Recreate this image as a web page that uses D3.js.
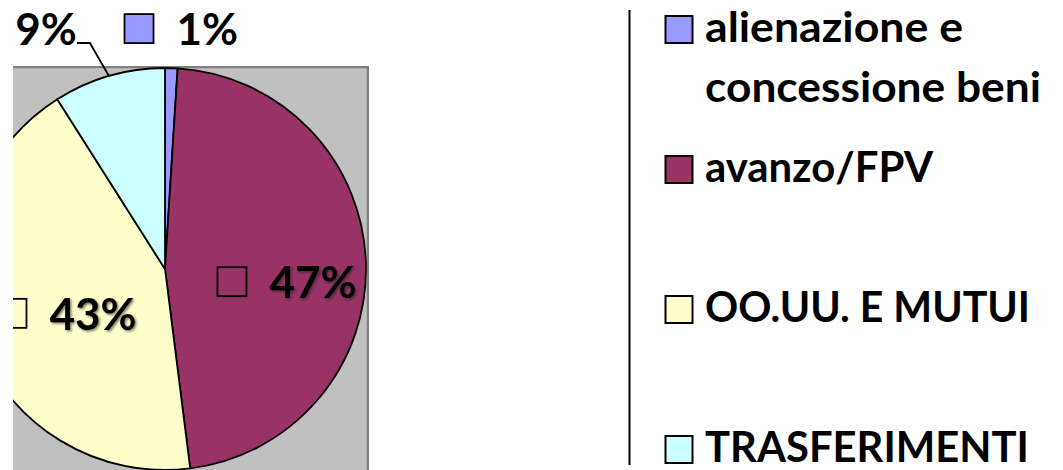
<!DOCTYPE html>
<html>
<head>
<meta charset="utf-8">
<script src="https://cdn.jsdelivr.net/npm/d3@7"></script>
<style>
  html, body { margin: 0; padding: 0; background: #ffffff; }
  svg { display: block; }
  text { font-family: Lato, "Open Sans", sans-serif; font-weight: 700; fill: #000; }
</style>
</head>
<body>
<svg id="chart" width="1063" height="470"></svg>
<script>
// Funding sources: share of the total, in percent
const categories = ["alienazione e concessione beni", "avanzo/FPV", "OO.UU. E MUTUI", "TRASFERIMENTI"];
const shares = [1, 47, 43, 9];
const percentLabels = ["1%", "47%", "43%", "9%"];
// Legend text, split on the lines it wraps to
const legendLines = [["alienazione e", "concessione beni"], ["avanzo/FPV"], ["OO.UU. E MUTUI"], ["TRASFERIMENTI"]];

const palette = ["#9999FF", "#993366", "#FFFFCC", "#CCFFFF"];
// set width of each legend line, in px
const legendLineWidths = [[258, 336], [228], [325], [324]];

const W = 1063, H = 470;
const svg = d3.select("#chart");

// plot area
const plot = { x0: 13, y0: 67, x1: 369, y1: H };
const cx = 165, cy = 269, R = 201;

svg.append("defs").append("clipPath").attr("id", "plotClip")
  .append("rect").attr("x", plot.x0).attr("y", plot.y0 - 1)
  .attr("width", plot.x1 - plot.x0).attr("height", plot.y1 - plot.y0 + 1);

const shadow = svg.select("defs").append("filter").attr("id", "lblShadow")
  .attr("x", "-10%").attr("y", "-10%").attr("width", "130%").attr("height", "130%");
shadow.append("feDropShadow").attr("dx", 1.5).attr("dy", 1.5)
  .attr("stdDeviation", 0.9).attr("flood-color", "#222").attr("flood-opacity", 0.6);

const plotG = svg.append("g").attr("clip-path", "url(#plotClip)");

plotG.append("rect")
  .attr("x", plot.x0).attr("y", plot.y0)
  .attr("width", plot.x1 - plot.x0).attr("height", plot.y1 - plot.y0)
  .attr("fill", "#C0C0C0");
// frame: top and right edges
plotG.append("path")
  .attr("d", `M${plot.x0},${plot.y0}H${plot.x1 - 1}V${plot.y1}`)
  .attr("fill", "none").attr("stroke", "#808080").attr("stroke-width", 2.5);

const pie = d3.pie().sort(null).startAngle(0).endAngle(2 * Math.PI)(shares);
const arc = d3.arc().innerRadius(0).outerRadius(R);

const pieG = plotG.append("g").attr("transform", `translate(${cx},${cy})`);
pieG.selectAll("path.slice").data(pie).join("path")
  .attr("class", "slice")
  .attr("d", arc)
  .attr("fill", (d, i) => palette[i])
  .attr("stroke", "#000").attr("stroke-width", 1.8).attr("stroke-linejoin", "round");

// point on the pie at angle a (clockwise from 12 o'clock) and radius r
const polar = (a, r) => [cx + r * Math.sin(a), cy - r * Math.cos(a)];

// label placement per slice: radius factor and shift of the label group
const labelPlacement = [
  { rf: 1.0, dx: 10, dy: -23, inside: false },
  { rf: 0.6, dx: 1.5, dy: 33, inside: true },
  { rf: 0.6, dx: 15.5, dy: 20, inside: true },
  { rf: 1.0, leader: [-19, -33, -13], inside: false }
];

const keySize = 29, keyGap = 23, labelFont = 44;

pie.forEach((d, i) => {
  const p = labelPlacement[i];
  const mid = (d.startAngle + d.endAngle) / 2;
  const [ax, ay] = polar(mid, R * p.rf);
  const layer = p.inside ? plotG : svg;

  if (p.leader) {
    const ex = ax + p.leader[0], ey = ay + p.leader[1];
    const tx = ex + p.leader[2];
    svg.append("path")
      .attr("d", `M${ax},${ay}L${ex},${ey}H${tx}`)
      .attr("fill", "none").attr("stroke", "#000").attr("stroke-width", 1.8);
    svg.append("text")
      .attr("x", tx).attr("y", ey + 2)
      .attr("text-anchor", "end")
      .style("font-size", labelFont + "px")
      .text(percentLabels[i]);
    return;
  }

  const g = layer.append("g");
  const t = g.append("text")
    .style("font-size", labelFont + "px")
    .text(percentLabels[i]);
  if (p.inside) t.attr("filter", "url(#lblShadow)");
  const tw = t.node().getComputedTextLength();
  const total = keySize + keyGap + tw;
  const left = ax + p.dx - total / 2;
  const base = ay + p.dy;
  g.insert("rect", "text")
    .attr("x", left).attr("y", base - 31)
    .attr("width", keySize).attr("height", keySize)
    .attr("fill", palette[i]).attr("stroke", "#000").attr("stroke-width", 1.8);
  t.attr("x", left + keySize + keyGap).attr("y", base);
});

// legend
const legendX = 629.5;
svg.append("line")
  .attr("x1", legendX).attr("x2", legendX).attr("y1", 10).attr("y2", 465)
  .attr("stroke", "#000").attr("stroke-width", 2);

const legendTop = 16, legendStep = 140, legendKey = 27, legendFont = 42, lineGap = 60;
const legendG = svg.append("g");
categories.forEach((c, i) => {
  const top = legendTop + i * legendStep;
  legendG.append("rect")
    .attr("x", 665.5).attr("y", top)
    .attr("width", legendKey).attr("height", legendKey)
    .attr("fill", palette[i]).attr("stroke", "#000").attr("stroke-width", 2);
  legendLines[i].forEach((line, j) => {
    legendG.append("text")
      .attr("x", 705).attr("y", top + legendKey - 1 + j * lineGap)
      .attr("textLength", legendLineWidths[i][j])
      .attr("lengthAdjust", "spacingAndGlyphs")
      .style("font-size", legendFont + "px")
      .text(line);
  });
});
</script>
</body>
</html>
